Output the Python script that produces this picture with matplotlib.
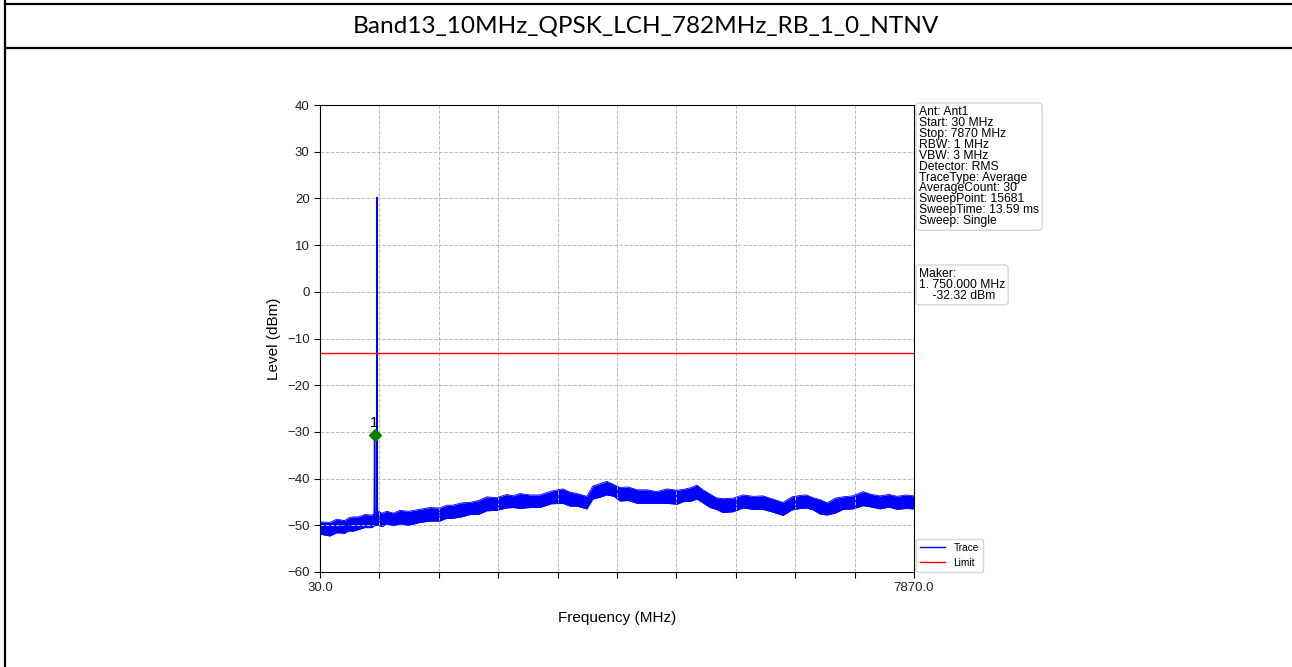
import matplotlib.pyplot as plt
from matplotlib.lines import Line2D

plt.rcParams['font.family'] = ['Liberation Sans', 'DejaVu Sans']

title = 'Band13_10MHz_QPSK_LCH_782MHz_RB_1_0_NTNV'

# noise floor: centre level, upper and lower edge offsets
floor_freq = [30, 95, 158, 250, 356, 410, 462, 540, 620, 713, 745, 790, 850, 911,
              1000, 1082, 1200, 1347, 1480, 1612, 1700, 1782, 1900, 2007, 2120,
              2231, 2360, 2495, 2580, 2667, 2800, 2931, 3080, 3235, 3330, 3420,
              3552, 3631, 3724, 3816, 3909, 3988, 4100, 4213, 4350, 4477, 4610,
              4741, 4830, 4913, 5005, 5084, 5177, 5260, 5349, 5480, 5613, 5750,
              5877, 6009, 6141, 6260, 6366, 6450, 6538, 6630, 6723, 6830, 6934,
              7060, 7198, 7310, 7423, 7540, 7647, 7760, 7870]
floor_level = [-50.5, -50.8, -50.7, -50.4, -50.2, -49.9, -49.6, -49.5, -49.3, -49.0,
               -48.8, -48.6, -48.7, -48.5, -48.6, -48.4, -48.3, -48.0, -47.9, -47.6,
               -47.2, -46.9, -46.8, -46.5, -46.0, -45.6, -45.3, -44.9, -45.0, -44.8,
               -44.9, -44.7, -44.2, -43.9, -44.2, -44.6, -45.0, -43.2, -42.4, -42.1,
               -42.5, -43.3, -43.5, -43.7, -43.9, -44.0, -43.8, -43.8, -43.7, -43.5,
               -43.1, -43.6, -44.7, -45.4, -45.9, -45.4, -45.0, -45.1, -45.4, -45.8,
               -46.3, -45.4, -44.9, -45.1, -45.3, -45.9, -46.5, -45.9, -45.4, -44.9,
               -44.4, -44.8, -45.0, -44.9, -45.0, -45.1, -45.1]
floor_up = [1.2, 1.5, 1.3, 1.7, 1.2, 1.5, 1.4, 1.3, 1.6, 1.2, 1.3, 1.7, 1.3, 1.5,
            1.2, 1.6, 1.3, 1.4, 1.7, 1.3, 1.5, 1.2, 1.6, 1.4, 1.3, 1.7, 1.2, 1.5,
            1.3, 1.6, 1.4, 1.2, 1.5, 1.7, 1.3, 1.4, 1.2, 1.6, 1.3, 1.5, 1.2, 1.4,
            1.7, 1.3, 1.5, 1.2, 1.6, 1.3, 1.4, 1.5, 1.7, 1.2, 1.4, 1.3, 1.6, 1.2,
            1.5, 1.3, 1.7, 1.4, 1.2, 1.5, 1.3, 1.6, 1.2, 1.4, 1.3, 1.7, 1.5, 1.2,
            1.6, 1.4, 1.3, 1.5, 1.2, 1.6, 1.4]
floor_down = [1.4, 1.3, 1.6, 1.2, 1.5, 1.3, 1.7, 1.4, 1.2, 1.5, 1.3, 1.4, 1.6, 1.2,
              1.5, 1.3, 1.7, 1.4, 1.2, 1.5, 1.3, 1.6, 1.4, 1.2, 1.7, 1.3, 1.5, 1.4,
              1.2, 1.6, 1.3, 1.5, 1.2, 1.4, 1.7, 1.3, 1.5, 1.2, 1.6, 1.4, 1.3, 1.5,
              1.2, 1.6, 1.4, 1.3, 1.5, 1.7, 1.2, 1.4, 1.3, 1.6, 1.5, 1.2, 1.4, 1.7,
              1.3, 1.5, 1.2, 1.4, 1.6, 1.3, 1.5, 1.2, 1.4, 1.7, 1.3, 1.5, 1.2, 1.6,
              1.4, 1.3, 1.5, 1.2, 1.6, 1.3, 1.4]

# carrier spike
spike_freq = [713, 745, 750, 756, 776, 782, 788, 790]
spike_level = [-49.0, -48.8, -30.7, -48.7, -48.6, 20.2, -48.6, -48.6]

limit_level = -13
marker_freq = 750
marker_level = -30.7

x_start, x_stop = 30, 7870
x_ticks = [30 + 784 * i for i in range(11)]
x_ticklabels = ['30.0'] + [''] * 9 + ['7870.0']
y_ticks = [-60, -50, -40, -30, -20, -10, 0, 10, 20, 30, 40]

info_text = ('Ant: Ant1\nStart: 30 MHz\nStop: 7870 MHz\nRBW: 1 MHz\nVBW: 3 MHz\n'
             'Detector: RMS\nTraceType: Average\nAverageCount: 30\n'
             'SweepPoint: 15681\nSweepTime: 13.59 ms\nSweep: Single')
maker_text = 'Maker:\n1. 750.000 MHz\n    -32.32 dBm'

fig = plt.figure(figsize=(12.92, 6.67), dpi=100)

# table borders around the picture
fig.add_artist(Line2D([5 / 1292, 5 / 1292], [0, 1], color='black', lw=1.6))
fig.add_artist(Line2D([5 / 1292, 1], [1 - 4 / 667, 1 - 4 / 667], color='black', lw=1.6))
fig.add_artist(Line2D([5 / 1292, 1], [1 - 48 / 667, 1 - 48 / 667], color='black', lw=1.6))
fig.text(646 / 1292, 1 - 26 / 667, title, ha='center', va='center', fontsize=17.6,
         family=['Lato', 'DejaVu Sans'])

ax = fig.add_axes([320 / 1292, 1 - 572 / 667, 594 / 1292, 467 / 667])

lower = [l - d for l, d in zip(floor_level, floor_down)]
upper = [l + u for l, u in zip(floor_level, floor_up)]
ax.fill_between(floor_freq, lower, upper, color='blue', lw=0)
ax.plot(floor_freq, upper, color='blue', lw=0.6)
ax.plot(floor_freq, lower, color='blue', lw=0.6)
ax.plot(floor_freq, floor_level, color='blue', lw=1, label='Trace')
ax.plot(spike_freq, spike_level, color='blue', lw=1)
ax.axhline(limit_level, color='red', lw=1, label='Limit')

ax.plot(marker_freq, marker_level, marker='D', color='green', markersize=6)
ax.text(marker_freq, marker_level + 1.2, '1', ha='center', va='bottom', fontsize=11)

ax.set_xlim(x_start, x_stop)
ax.set_ylim(-60, 40)
ax.set_xticks(x_ticks)
ax.set_xticklabels(x_ticklabels)
ax.set_yticks(y_ticks)
ax.tick_params(labelsize=9.5, length=4, labelcolor='#222222')
ax.grid(True, linestyle='--', color='#bbbbbb', lw=0.7)
ax.set_xlabel('Frequency (MHz)', fontsize=11, labelpad=12)
ax.set_ylabel('Level (dBm)', fontsize=11)

box = dict(boxstyle='round,pad=0.25', facecolor='white', edgecolor='#cccccc', lw=0.8)
fig.text(919 / 1292, 1 - 106 / 667, info_text, ha='left', va='top', fontsize=8.7,
         linespacing=0.88, bbox=box)
fig.text(919 / 1292, 1 - 268 / 667, maker_text, ha='left', va='top', fontsize=8.7,
         linespacing=0.88, bbox=box)

ax.legend(loc='lower left', bbox_to_anchor=(1.003, 0), fontsize=7.3,
          handlelength=2.5, borderaxespad=0, frameon=True, fancybox=True)

fig.savefig('out.png', dpi=100)
